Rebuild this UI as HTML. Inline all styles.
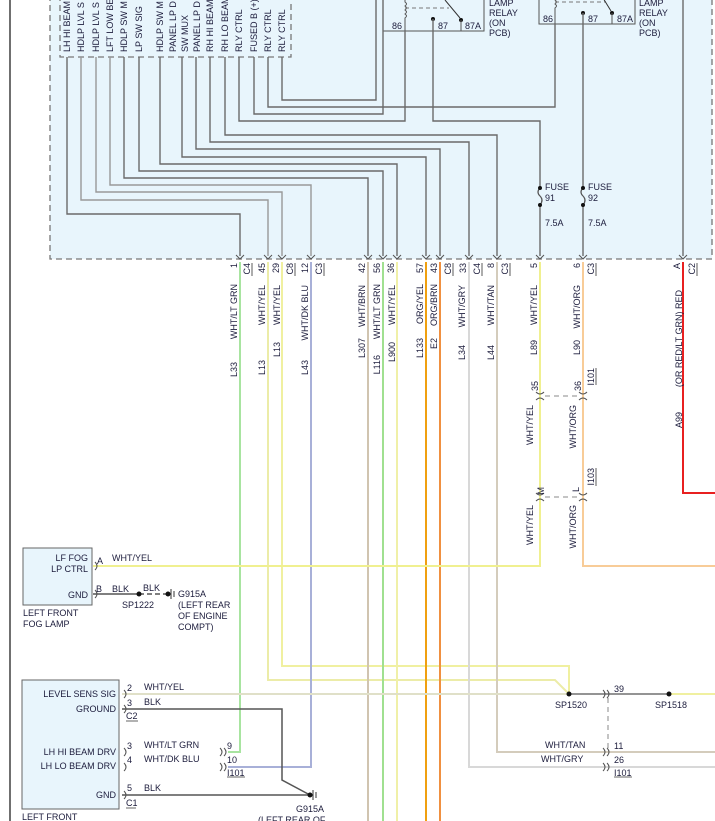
<!DOCTYPE html>
<html><head><meta charset="utf-8"><style>
html,body{margin:0;padding:0;background:#fff;}
svg{display:block;}
text{font-family:"Liberation Sans",sans-serif;font-size:9px;fill:#1c1c3c;}
</style></head><body>
<svg width="715" height="821" viewBox="0 0 715 821" xmlns="http://www.w3.org/2000/svg">
<!-- main box -->
<rect x="50" y="-5" width="662" height="264" fill="#e8f5fc"/>
<path d="M50,-5 V259 H712 V-5" fill="none" stroke="#777" stroke-width="1.3" stroke-dasharray="6,4"/>
<line x1="10" y1="0" x2="10" y2="821" stroke="#222" stroke-width="1.3"/>
<!-- inner connector block -->
<path d="M60,-5 V57 H291 V-5" fill="none" stroke="#777" stroke-width="1.3" stroke-dasharray="6,4"/>
<g font-size="9">
<text transform="translate(70,52) rotate(-90)">LH HI BEAM</text>
<text transform="translate(84,52) rotate(-90)">HDLP LVL S</text>
<text transform="translate(99,52) rotate(-90)">HDLP LVL S</text>
<text transform="translate(113,52) rotate(-90)">LFT LOW BE</text>
<text transform="translate(127,52) rotate(-90)">HDLP SW M</text>
<text transform="translate(142,52) rotate(-90)">LP SW SIG</text>
<text transform="translate(163,52) rotate(-90)">HDLP SW M</text>
<text transform="translate(176,52) rotate(-90)">PANEL LP D</text>
<text transform="translate(188,52) rotate(-90)">SW MUX</text>
<text transform="translate(200,52) rotate(-90)">PANEL LP D</text>
<text transform="translate(213,52) rotate(-90)">RH HI BEAM</text>
<text transform="translate(228,52) rotate(-90)">RH LO BEAM</text>
<text transform="translate(242,52) rotate(-90)">RLY CTRL</text>
<text transform="translate(257,52) rotate(-90)">FUSED B (+)</text>
<text transform="translate(271,52) rotate(-90)">RLY CTRL</text>
<text transform="translate(285,52) rotate(-90)">RLY CTRL</text>
</g>
<!-- relays -->
<rect x="383" y="-5" width="101" height="36" fill="#e8f5fc" stroke="#555" stroke-width="1"/>
<path d="M405,-5 V2 q3,2 0,4 q3,2 0,4 q3,2 0,4 q3,2 0,4 V31" fill="none" stroke="#555"/>
<line x1="405" y1="8" x2="449" y2="8" stroke="#777" stroke-dasharray="4,3"/>
<line x1="445" y1="0" x2="460" y2="18" stroke="#333"/>
<circle cx="433" cy="19" r="2" fill="#111"/><circle cx="461" cy="20" r="2" fill="#111"/>
<line x1="461" y1="20" x2="461" y2="31" stroke="#555"/>
<text x="392" y="29">86</text><text x="438" y="29">87</text><text x="465" y="29">87A</text>
<text x="489" y="6">LAMP</text><text x="489" y="16">RELAY</text><text x="489" y="26">(ON</text><text x="489" y="36">PCB)</text>
<rect x="539" y="-5" width="96" height="29" fill="#e8f5fc" stroke="#555" stroke-width="1"/>
<path d="M555,-5 V0 q3,2 0,4 q3,2 0,4 V24" fill="none" stroke="#555"/>
<line x1="555" y1="2" x2="606" y2="2" stroke="#777" stroke-dasharray="4,3"/>
<line x1="603" y1="-2" x2="611" y2="11" stroke="#333"/>
<circle cx="583" cy="13" r="2" fill="#111"/><circle cx="612" cy="13" r="2" fill="#111"/>
<line x1="612" y1="13" x2="612" y2="24" stroke="#555"/>
<text x="543" y="22">86</text><text x="588" y="22">87</text><text x="617" y="22">87A</text>
<text x="639" y="6">LAMP</text><text x="639" y="16">RELAY</text><text x="639" y="26">(ON</text><text x="639" y="36">PCB)</text>
<!-- internal wires -->
<g fill="none" stroke="#6a6a6a" stroke-width="1.4">
<path d="M67,57 V214 H240 V256"/>
<path d="M81,57 V200 H268 V256" stroke="#999"/>
<path d="M96,57 V192 H282 V256" stroke="#999"/>
<path d="M110,57 V185 H311 V256" stroke="#999"/>
<path d="M124,57 V178 H368 V256"/>
<path d="M139,57 V171 H383 V256"/>
<path d="M160,57 V164 H397 V256"/>
<path d="M182,57 V157 H426 V256"/>
<path d="M196,57 V149 H440 V256"/>
<path d="M210,57 V142 H469 V256"/>
<path d="M225,57 V135 H497 V256"/>
<path d="M239,57 V121 H405 V31"/>
<path d="M254,57 V114 H383 V-5"/>
<path d="M268,57 V107 H555 V24"/>
<path d="M282,57 V100 H376 V-5"/>
<path d="M433,19 V121 H540 V188"/>
<path d="M540,205 V256"/>
<path d="M583,13 V188"/>
<path d="M583,205 V256"/>
<path d="M683,-5 V256"/>
</g>
<!-- fuses -->
<g fill="none" stroke="#555" stroke-width="1.2">
<path d="M540,188 q-4,4 0,8 q4,4 0,9"/><path d="M583,188 q-4,4 0,8 q4,4 0,9"/>
</g>
<circle cx="540" cy="188" r="2" fill="#111"/><circle cx="540" cy="205" r="2" fill="#111"/>
<circle cx="583" cy="188" r="2" fill="#111"/><circle cx="583" cy="205" r="2" fill="#111"/>
<text x="545" y="190">FUSE</text><text x="545" y="201">91</text><text x="545" y="226">7.5A</text>
<text x="588" y="190">FUSE</text><text x="588" y="201">92</text><text x="588" y="226">7.5A</text>
<!-- external wires -->
<g fill="none" stroke-width="2">
<path d="M240,262 V752 H228" stroke="#a8e4a0"/>
<path d="M268,262 V680 H555 L569,694" stroke="#ececa8"/>
<path d="M282,262 V666 H569 V694" stroke="#f0f0a0"/>
<path d="M311,262 V767 H228" stroke="#a8b0d8"/>
<path d="M368,262 V821" stroke="#d0c4b0"/>
<path d="M383,262 V821" stroke="#a0e090"/>
<path d="M397,262 V821" stroke="#f0f0a8"/>
<path d="M426,262 V821" stroke="#f0a010"/>
<path d="M440,262 V821" stroke="#f09040"/>
<path d="M469,262 V767 H715" stroke="#d8d8d8"/>
<path d="M497,262 V752 H715" stroke="#d4ccbc"/>
<path d="M540,262 V566 H93" stroke="#f0f090"/>
<path d="M583,262 V566 H715" stroke="#f8cc98"/>
<path d="M683,262 V493 H715" stroke="#e82020"/>
<path d="M122,694 H569" stroke="#e0e0c8"/>
<path d="M669,694 H715" stroke="#f0f0a0"/>
</g>
<g fill="none" stroke="#555" stroke-width="1.5">
<path d="M93,594 H139"/>
<path d="M139,594 H168" stroke-dasharray="5,3"/>
<path d="M122,709 H282 V780 L310,795"/>
<path d="M122,795 H310"/>
<path d="M569,694 H669" stroke-width="1.2"/>
</g>
<g stroke="#888" stroke-dasharray="5,4" fill="none">
<path d="M545,396 H578"/><path d="M545,497 H578"/><path d="M608,698 V748"/>
</g>
<!-- dots & grounds -->
<circle cx="139" cy="594" r="2.5" fill="#111"/><circle cx="168" cy="594" r="2.5" fill="#111"/>
<path d="M171,589 V599 M174,591 V597" stroke="#333"/>
<circle cx="310" cy="795" r="2.5" fill="#111"/>
<path d="M313,790 V800 M316,792 V798" stroke="#333"/>
<circle cx="569" cy="694" r="2.5" fill="#111"/><circle cx="669" cy="694" r="2.5" fill="#111"/>
<!-- chevrons at bottom of box -->
<g fill="none" stroke="#555" stroke-width="1">
<path d="M236,255 l4,4 l4,-4 M264,255 l4,4 l4,-4 M278,255 l4,4 l4,-4 M307,255 l4,4 l4,-4 M364,255 l4,4 l4,-4 M379,255 l4,4 l4,-4 M393,255 l4,4 l4,-4 M422,255 l4,4 l4,-4 M436,255 l4,4 l4,-4 M465,255 l4,4 l4,-4 M493,255 l4,4 l4,-4 M536,255 l4,4 l4,-4 M579,255 l4,4 l4,-4 M679,255 l4,4 l4,-4"/>
<path d="M536,392 q4,4 8,0 M536,400 q4,-4 8,0 M579,392 q4,4 8,0 M579,400 q4,-4 8,0 M536,493 q4,4 8,0 M536,501 q4,-4 8,0 M579,493 q4,4 8,0 M579,501 q4,-4 8,0"/>
<path d="M95,562 q4,4 0,8 M95,590 q4,4 0,8 M124,690 q4,4 0,8 M124,705 q4,4 0,8 M124,748 q4,4 0,8 M124,763 q4,4 0,8 M124,791 q4,4 0,8"/>
<path d="M220,748 q4,4 0,8 M224,748 q4,4 0,8 M220,763 q4,4 0,8 M224,763 q4,4 0,8 M603,690 q4,4 0,8 M607,690 q4,4 0,8 M603,748 q4,4 0,8 M607,748 q4,4 0,8 M603,763 q4,4 0,8 M607,763 q4,4 0,8"/>
</g>
<!-- pin labels -->
<g>
<text transform="translate(237,263) rotate(-90)" text-anchor="end">1</text>
<text transform="translate(250,263) rotate(-90)" text-anchor="end">C4</text>
<text transform="translate(265,263) rotate(-90)" text-anchor="end">45</text>
<text transform="translate(279,263) rotate(-90)" text-anchor="end">29</text>
<text transform="translate(293,263) rotate(-90)" text-anchor="end">C8</text>
<text transform="translate(308,263) rotate(-90)" text-anchor="end">12</text>
<text transform="translate(322,263) rotate(-90)" text-anchor="end">C3</text>
<text transform="translate(365,263) rotate(-90)" text-anchor="end">42</text>
<text transform="translate(380,263) rotate(-90)" text-anchor="end">56</text>
<text transform="translate(394,263) rotate(-90)" text-anchor="end">36</text>
<text transform="translate(423,263) rotate(-90)" text-anchor="end">57</text>
<text transform="translate(437,263) rotate(-90)" text-anchor="end">43</text>
<text transform="translate(451,263) rotate(-90)" text-anchor="end">C8</text>
<text transform="translate(466,263) rotate(-90)" text-anchor="end">33</text>
<text transform="translate(480,263) rotate(-90)" text-anchor="end">C4</text>
<text transform="translate(494,263) rotate(-90)" text-anchor="end">8</text>
<text transform="translate(508,263) rotate(-90)" text-anchor="end">C3</text>
<text transform="translate(537,263) rotate(-90)" text-anchor="end">5</text>
<text transform="translate(580,263) rotate(-90)" text-anchor="end">6</text>
<text transform="translate(594,263) rotate(-90)" text-anchor="end">C3</text>
<text transform="translate(680,263) rotate(-90)" text-anchor="end">A</text>
<text transform="translate(695,263) rotate(-90)" text-anchor="end">C2</text>
</g>
<g stroke="#333" stroke-width="0.8">
<path d="M252,263 V276 M295,263 V276 M324,263 V276 M453,263 V276 M482,263 V276 M510,263 V276 M596,263 V276 M697,263 V276 M596,368 V385 M596,468 V486"/>
</g>
<!-- wire labels -->
<g text-anchor="end">
<text transform="translate(237,284) rotate(-90)">WHT/LT GRN</text><text transform="translate(237,362) rotate(-90)">L33</text>
<text transform="translate(265,285) rotate(-90)">WHT/YEL</text><text transform="translate(265,360) rotate(-90)">L13</text>
<text transform="translate(280,285) rotate(-90)">WHT/YEL</text><text transform="translate(280,342) rotate(-90)">L13</text>
<text transform="translate(308,285) rotate(-90)">WHT/DK BLU</text><text transform="translate(308,360) rotate(-90)">L43</text>
<text transform="translate(365,285) rotate(-90)">WHT/BRN</text><text transform="translate(365,338) rotate(-90)">L307</text>
<text transform="translate(380,284) rotate(-90)">WHT/LT GRN</text><text transform="translate(380,355) rotate(-90)">L116</text>
<text transform="translate(395,285) rotate(-90)">WHT/YEL</text><text transform="translate(395,342) rotate(-90)">L900</text>
<text transform="translate(423,284) rotate(-90)">ORG/YEL</text><text transform="translate(423,338) rotate(-90)">L133</text>
<text transform="translate(437,284) rotate(-90)">ORG/BRN</text><text transform="translate(437,338) rotate(-90)">E2</text>
<text transform="translate(465,285) rotate(-90)">WHT/GRY</text><text transform="translate(465,345) rotate(-90)">L34</text>
<text transform="translate(494,285) rotate(-90)">WHT/TAN</text><text transform="translate(494,345) rotate(-90)">L44</text>
<text transform="translate(537,285) rotate(-90)">WHT/YEL</text><text transform="translate(537,340) rotate(-90)">L89</text>
<text transform="translate(580,285) rotate(-90)">WHT/ORG</text><text transform="translate(580,340) rotate(-90)">L90</text>
<text transform="translate(682,290) rotate(-90)">(OR RED/LT GRN) RED</text><text transform="translate(682,412) rotate(-90)">A99</text>
<text transform="translate(594,368) rotate(-90)">I101</text>
<text transform="translate(594,468) rotate(-90)">I103</text>
<text transform="translate(538,381) rotate(-90)">35</text>
<text transform="translate(581,381) rotate(-90)">36</text>
<text transform="translate(533,405) rotate(-90)">WHT/YEL</text>
<text transform="translate(576,405) rotate(-90)">WHT/ORG</text>
<text transform="translate(544,487) rotate(-90)">M</text>
<text transform="translate(579,487) rotate(-90)">L</text>
<text transform="translate(533,505) rotate(-90)">WHT/YEL</text>
<text transform="translate(576,505) rotate(-90)">WHT/ORG</text>
</g>
<!-- fog lamp -->
<rect x="23" y="548" width="69" height="57" fill="#e8f5fc" stroke="#666"/>
<g text-anchor="end"><text x="88" y="561">LF FOG</text><text x="88" y="572">LP CTRL</text><text x="88" y="598">GND</text></g>
<text x="97" y="564">A</text><text x="112" y="561">WHT/YEL</text>
<text x="96" y="592">B</text><text x="112" y="592">BLK</text><text x="143" y="591">BLK</text>
<text x="122" y="608">SP1222</text>
<text x="178" y="597">G915A</text><text x="178" y="608">(LEFT REAR</text><text x="178" y="619">OF ENGINE</text><text x="178" y="630">COMPT)</text>
<text x="23" y="616">LEFT FRONT</text><text x="23" y="627">FOG LAMP</text>
<!-- leveling / headlamp -->
<rect x="22" y="680" width="97" height="129" fill="#e8f5fc" stroke="#666"/>
<g text-anchor="end"><text x="116" y="697">LEVEL SENS SIG</text><text x="116" y="712">GROUND</text><text x="116" y="755">LH HI BEAM DRV</text><text x="116" y="769">LH LO BEAM DRV</text><text x="116" y="798">GND</text></g>
<text x="127" y="691">2</text><text x="144" y="690">WHT/YEL</text>
<text x="127" y="706">3</text><text x="144" y="705">BLK</text>
<text x="126" y="719">C2</text>
<text x="127" y="749">3</text><text x="144" y="748">WHT/LT GRN</text>
<text x="127" y="763">4</text><text x="144" y="762">WHT/DK BLU</text>
<text x="127" y="791">5</text><text x="144" y="791">BLK</text>
<text x="126" y="806">C1</text>
<path d="M126,721 H138 M126,808 H136 M227,777 H245 M614,777 H632" stroke="#333" stroke-width="0.8"/>
<text x="227" y="749">9</text><text x="227" y="763">10</text><text x="227" y="776">I101</text>
<text x="296" y="812">G915A</text><text x="258" y="823">(LEFT REAR OF</text>
<text x="22" y="820">LEFT FRONT</text>
<text x="614" y="692">39</text><text x="555" y="708">SP1520</text><text x="655" y="708">SP1518</text>
<text x="545" y="748">WHT/TAN</text><text x="541" y="762">WHT/GRY</text>
<text x="614" y="749">11</text><text x="614" y="763">26</text><text x="614" y="776">I101</text>
</svg>
</body></html>
